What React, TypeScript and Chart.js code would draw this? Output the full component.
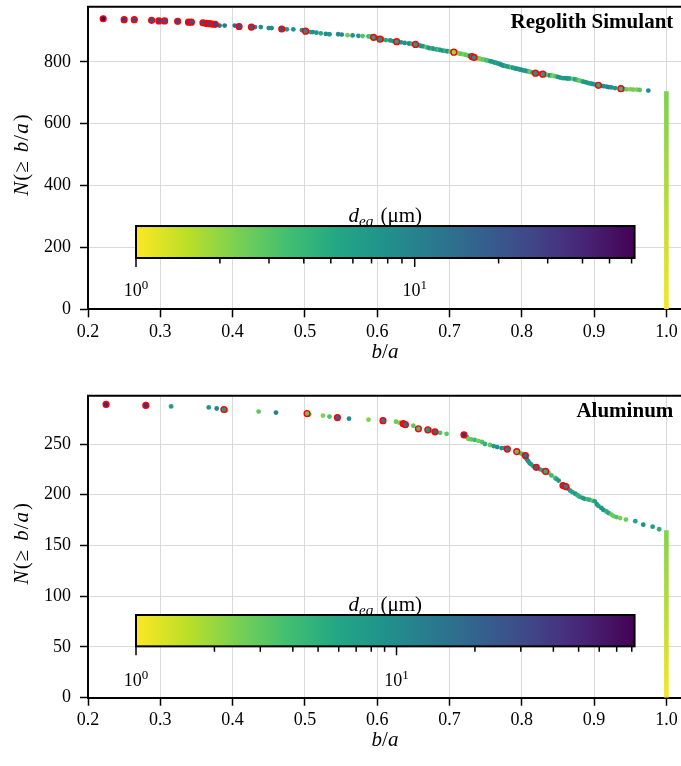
import React, { useEffect, useRef } from "react";
import { Chart, registerables } from "chart.js";

Chart.register(...registerables);

const FONT = '"Liberation Serif", "Times New Roman", serif';

// ---------- axes ----------
const X_TICKS = [0.2, 0.3, 0.4, 0.5, 0.6, 0.7, 0.8, 0.9, 1.0];
const X_MIN = 0.2;
const X_MAX = 1.0216;
const TOP_Y_TICKS = [0, 200, 400, 600, 800];
const TOP_Y_MAX = 978;
const BOT_Y_TICKS = [0, 50, 100, 150, 200, 250];
const BOT_Y_MAX = 297.6;

// ---------- colorbar ----------
const CB_MAJOR = [1, 10];
const CB_MINOR = [2, 3, 4, 5, 6, 7, 8, 9, 20, 30, 40, 50, 60, 70, 80, 90];
const TOP_D_MAX = 61.5;
const BOT_D_MAX = 82;
const CB_BA = [0.2664, 0.956];
const TOP_CB_N = [165.8, 269.1];
const BOT_CB_N = [50.6, 81.5];

// ---------- stack of particles at b/a = 1 ----------
const TOP_VLINE_N = [0, 705];
const BOT_VLINE_N = [0, 165];
const VLINE_D = [1.05, 2.3];

// ---------- Regolith Simulant ----------
const TOP_BA = [
  0.382, 0.389, 0.403, 0.431, 0.439, 0.45, 0.454, 0.475, 0.484, 0.496,
  0.508, 0.511, 0.516, 0.522, 0.529, 0.534, 0.546, 0.551, 0.559, 0.566,
  0.574, 0.58, 0.588, 0.591, 0.6, 0.607, 0.612, 0.618, 0.622, 0.633,
  0.638, 0.644, 0.648, 0.658, 0.661, 0.664, 0.668, 0.671, 0.673, 0.676,
  0.678, 0.682, 0.685, 0.687, 0.691, 0.694, 0.697, 0.701, 0.71, 0.713,
  0.715, 0.718, 0.72, 0.723, 0.725, 0.728, 0.738, 0.74, 0.742, 0.745,
  0.747, 0.749, 0.751, 0.753, 0.756, 0.758, 0.761, 0.763, 0.765, 0.768,
  0.77, 0.772, 0.774, 0.776, 0.778, 0.781, 0.783, 0.786, 0.788, 0.79,
  0.792, 0.795, 0.797, 0.8, 0.802, 0.805, 0.807, 0.81, 0.812, 0.815,
  0.824, 0.834, 0.837, 0.839, 0.842, 0.844, 0.847, 0.85, 0.853, 0.857,
  0.86, 0.863, 0.866, 0.871, 0.874, 0.877, 0.88, 0.883, 0.885, 0.888,
  0.891, 0.894, 0.897, 0.9, 0.91, 0.913, 0.917, 0.92, 0.924, 0.929,
  0.941, 0.945, 0.95, 0.954, 0.959, 0.963, 0.975,
];
const TOP_N = [
  917, 917, 917, 912, 912, 909, 909, 905, 905, 902,
  896, 896, 894, 892, 890, 889, 889, 888, 886, 885,
  884, 883, 882, 881, 876, 872, 870, 869, 867, 863,
  861, 859, 858, 853, 851, 850, 847, 845, 844, 843,
  842, 840, 839, 838, 836, 835, 834, 833, 829, 827,
  826, 825, 824, 822, 821, 819, 812, 811, 810, 808,
  807, 806, 805, 804, 802, 801, 799, 797, 796, 794,
  792, 790, 788, 787, 786, 784, 783, 782, 780, 779,
  778, 777, 775, 774, 772, 771, 770, 768, 767, 765,
  762, 758, 757, 756, 755, 754, 753, 751, 749, 747,
  747, 746, 746, 745, 743, 741, 739, 737, 736, 734,
  732, 730, 729, 727, 722, 721, 720, 718, 717, 715,
  712, 711, 711, 710, 710, 709, 707,
];
const TOP_D = [
  13, 12, 14, 10, 8, 8, 9, 7, 8, 9,
  6, 8, 7, 5, 8, 7, 8, 9, 2.5, 8,
  7, 3, 4, 3, 6, 8, 5, 7, 8, 7,
  8, 9, 5, 6, 8, 7, 3, 6, 8, 4,
  7, 6, 3, 6, 8, 4, 7, 3, 3, 2.2,
  2.5, 3, 2.2, 3, 2.5, 6, 2.5, 3, 2.2, 2.5,
  3, 2.2, 4, 3, 5, 8, 6, 9, 5, 8,
  6, 10, 7, 8, 5, 7, 6, 3, 8, 5,
  7, 8, 6, 9, 7, 6, 8, 4, 2.5, 7,
  6, 3, 2.5, 8, 3, 2.2, 3, 7, 8, 6,
  7, 8, 6, 3, 6, 4, 2.5, 3, 6, 7,
  8, 6, 7, 8, 7, 9, 8, 10, 8, 7,
  5, 2.5, 2.2, 2.5, 2.2, 3, 8,
];
const TOP_RED_BA = [
  0.221, 0.25, 0.264, 0.288, 0.298, 0.306, 0.324, 0.339, 0.343, 0.359,
  0.364, 0.368, 0.372, 0.376, 0.409, 0.426, 0.468, 0.501, 0.595, 0.604,
  0.627, 0.653, 0.706, 0.731, 0.734, 0.819, 0.829, 0.906, 0.937,
];
const TOP_RED_N = [
  939, 936, 936, 934, 932, 932, 931, 928, 928, 926,
  924, 923, 922, 921, 914, 912, 906, 899, 879, 873,
  865, 856, 831, 817, 814, 763, 760, 724, 713,
];
const TOP_RED_D = [
  55, 30, 25, 24, 28, 22, 26, 30, 24, 22,
  26, 24, 20, 28, 22, 20, 22, 9, 6, 8,
  6, 7, 1.8, 7, 8, 8, 6, 5, 4,
];

// ---------- Aluminum ----------
const BOT_BA = [
  0.315, 0.367, 0.378, 0.391, 0.436, 0.46, 0.506, 0.525, 0.534, 0.561,
  0.588, 0.626, 0.631, 0.65, 0.675, 0.687, 0.696, 0.724, 0.726, 0.73,
  0.735, 0.74, 0.745, 0.749, 0.756, 0.761, 0.766, 0.772, 0.776, 0.798,
  0.801, 0.807, 0.809, 0.811, 0.813, 0.816, 0.825, 0.829, 0.837, 0.841,
  0.846, 0.848, 0.851, 0.864, 0.867, 0.87, 0.874, 0.877, 0.88, 0.884,
  0.887, 0.891, 0.894, 0.898, 0.901, 0.904, 0.906, 0.91, 0.913, 0.917,
  0.92, 0.924, 0.927, 0.931, 0.936, 0.944, 0.957, 0.968, 0.981, 0.99,
];
const BOT_N = [
  287, 286, 285, 283, 282, 281, 279, 278, 277, 275,
  274, 272, 271, 268, 263, 261, 260, 257, 255, 254.5,
  254, 253, 252, 250, 249, 248, 247, 246, 246, 241,
  240, 235, 233, 231, 230, 228, 225, 224, 221.5, 219,
  216.5, 215.5, 214, 206, 204, 202.5, 201, 199.5, 198, 197,
  196, 195.5, 195, 194, 193.5, 190.5, 189, 187, 185, 183.5,
  182, 180.5, 179, 178, 177, 175.5, 174, 170.5, 168.5, 166,
];
const BOT_D = [
  7, 8, 11, 2.5, 3, 12, 3, 2.3, 3.5, 10,
  2.3, 2.8, 2.5, 3, 2.8, 3.5, 3, 4, 2.6, 3,
  4, 2.5, 3.5, 5, 3, 7, 9, 10, 8, 2.8,
  4, 8, 9, 7, 8, 6, 5, 7, 3, 4,
  3, 6, 8, 7, 8, 6, 9, 5, 5, 7,
  8, 4, 5, 3, 7, 8, 6, 8, 9, 5,
  6, 3, 2.8, 3.5, 2.5, 2.8, 6, 9, 7, 5,
];
const BOT_RED_BA = [
  0.225, 0.28, 0.388, 0.503, 0.545, 0.608, 0.636, 0.639, 0.657, 0.67,
  0.68, 0.72, 0.78, 0.793, 0.805, 0.82, 0.833, 0.857, 0.861,
];
const BOT_RED_N = [
  289, 288, 284, 280, 276, 273, 270, 269, 265, 264,
  262, 259, 245, 242.5, 238.6, 227, 223, 209, 208,
];
const BOT_RED_D = [
  50, 45, 8, 3, 20, 14, 22, 18, 4, 8,
  20, 45, 13, 3, 18, 20, 5, 20, 12,
];

// ---------- colormap ----------
const VIRIDIS = [
  [68, 1, 84], [72, 36, 117], [65, 68, 135], [53, 95, 141], [42, 120, 142],
  [33, 145, 140], [34, 168, 132], [68, 191, 112], [122, 209, 81], [189, 223, 38], [253, 231, 37],
];
function viridis(t: number): string {
  const tt = Math.max(0, Math.min(1, t));
  const s = tt * 10;
  const i = Math.min(9, Math.floor(s));
  const f = s - i;
  const a = VIRIDIS[i];
  const b = VIRIDIS[i + 1];
  const c = [0, 1, 2].map((k) => Math.round(a[k] + (b[k] - a[k]) * f));
  return `rgb(${c[0]},${c[1]},${c[2]})`;
}
function dColor(d: number, dmax: number): string {
  return viridis(1 - Math.log10(d) / Math.log10(dmax));
}

type Run = { t: string; f: string; dy?: number; gap?: number };
function drawRuns(ctx: CanvasRenderingContext2D, runs: Run[], cx: number, cy: number, baseline: CanvasTextBaseline) {
  let w = 0;
  for (const r of runs) {
    ctx.font = r.f;
    w += ctx.measureText(r.t).width + (r.gap || 0);
  }
  let x = cx - w / 2;
  ctx.textAlign = "left";
  ctx.textBaseline = baseline;
  for (const r of runs) {
    ctx.font = r.f;
    ctx.fillText(r.t, x, cy + (r.dy || 0));
    x += ctx.measureText(r.t).width + (r.gap || 0);
  }
}

type Cfg = {
  key: string;
  title: string;
  titleDy: number;
  regBA: number[];
  regN: number[];
  regD: number[];
  redBA: number[];
  redN: number[];
  redD: number[];
  vline: number[];
  yMax: number;
  yTicks: number[];
  dmax: number;
  cbN: number[];
  cbLabelDy: number;
  padTop: number;
  xAxisH: number;
};

const IT21 = `italic 21px ${FONT}`;
const RM21 = `21px ${FONT}`;

function makeOverlay(cfg: Cfg) {
  return {
    id: "overlay_" + cfg.key,
    afterDraw(chart: any) {
      const ctx: CanvasRenderingContext2D = chart.ctx;
      const ca = chart.chartArea;
      const xs = chart.scales.x;
      const ys = chart.scales.y;
      ctx.save();
      // top / right spines
      ctx.strokeStyle = "#000";
      ctx.lineWidth = 2;
      ctx.beginPath();
      ctx.moveTo(ca.left - 1, ca.top);
      ctx.lineTo(ca.right + 1, ca.top);
      ctx.moveTo(ca.right, ca.top);
      ctx.lineTo(ca.right, ca.bottom);
      ctx.stroke();

      // panel title
      ctx.fillStyle = "#000";
      ctx.font = `bold 21px ${FONT}`;
      ctx.textAlign = "right";
      ctx.textBaseline = "alphabetic";
      ctx.fillText(cfg.title, ca.right - 8.7, ca.top + cfg.titleDy);

      // axis titles
      drawRuns(ctx, [{ t: "b", f: IT21 }, { t: "/", f: RM21 }, { t: "a", f: IT21 }], (ca.left + ca.right) / 2, ca.bottom + 43, "middle");
      ctx.save();
      ctx.translate(22, (ca.top + ca.bottom) / 2 - 3);
      ctx.rotate(-Math.PI / 2);
      drawRuns(
        ctx,
        [
          { t: "N", f: IT21, gap: 1 },
          { t: "(", f: RM21, gap: 1 },
          { t: "\u2265", f: RM21, gap: 9 },
          { t: "b", f: IT21, gap: 1 },
          { t: "/", f: RM21, gap: 1 },
          { t: "a", f: IT21, gap: 2 },
          { t: ")", f: RM21 },
        ],
        0,
        0,
        "middle"
      );
      ctx.restore();

      // colorbar
      const x0 = xs.getPixelForValue(CB_BA[0]);
      const x1 = xs.getPixelForValue(CB_BA[1]);
      const yT = ys.getPixelForValue(cfg.cbN[1]);
      const yB = ys.getPixelForValue(cfg.cbN[0]);
      ctx.fillStyle = "#000";
      drawRuns(
        ctx,
        [
          { t: "d", f: IT21 },
          { t: "eq", f: `italic 15px ${FONT}`, dy: 4, gap: 2 },
          { t: " (\u03bcm)", f: RM21 },
        ],
        (x0 + x1) / 2,
        yT - 4,
        "alphabetic"
      );
      const L = Math.log10(cfg.dmax);
      const g = ctx.createLinearGradient(x0, 0, x1, 0);
      for (let i = 0; i <= 40; i++) {
        const f = i / 40;
        g.addColorStop(f, viridis(1 - f));
      }
      ctx.fillStyle = g;
      ctx.fillRect(x0, yT, x1 - x0, yB - yT);
      ctx.strokeStyle = "#000";
      ctx.lineWidth = 2;
      ctx.strokeRect(x0, yT, x1 - x0, yB - yT);
      const px = (d: number) => x0 + (Math.log10(d) / L) * (x1 - x0);
      ctx.lineWidth = 1.5;
      ctx.beginPath();
      for (const d of CB_MAJOR) {
        ctx.moveTo(px(d), yB);
        ctx.lineTo(px(d), yB + 9);
      }
      for (const d of CB_MINOR.filter((v) => v <= cfg.dmax)) {
        ctx.moveTo(px(d), yB);
        ctx.lineTo(px(d), yB + 5.5);
      }
      ctx.stroke();
      ctx.fillStyle = "#000";
      for (const d of CB_MAJOR) {
        const e = String(Math.round(Math.log10(d)));
        drawRuns(
          ctx,
          [
            { t: "10", f: `18px ${FONT}` },
            { t: e, f: `13px ${FONT}`, dy: -7 },
          ],
          px(d),
          yB + cfg.cbLabelDy,
          "alphabetic"
        );
      }
      ctx.restore();
    },
  };
}

function buildConfig(cfg: Cfg): any {
  const reg = cfg.regBA.map((x, i) => ({ x, y: cfg.regN[i], d: cfg.regD[i] }));
  const red = cfg.redBA.map((x, i) => ({ x, y: cfg.redN[i], d: cfg.redD[i] }));
  const colorOf = (c: any) => {
    const r = c.raw;
    return r && r.d ? dColor(r.d, cfg.dmax) : "#21918c";
  };
  const vGrad = (c: any) => {
    const ch = c.chart;
    const ys = ch.scales && ch.scales.y;
    if (!ys || !ch.chartArea) return dColor(1.5, cfg.dmax);
    const y0 = ys.getPixelForValue(cfg.vline[0]);
    const y1 = ys.getPixelForValue(cfg.vline[1]);
    const g = ch.ctx.createLinearGradient(0, y0, 0, y1);
    g.addColorStop(0, dColor(VLINE_D[0], cfg.dmax));
    g.addColorStop(1, dColor(VLINE_D[1], cfg.dmax));
    return g;
  };
  const grid = { color: "#d9d9d9", lineWidth: 1, tickColor: "#000", tickWidth: 1.5, tickLength: 8 };
  const border = { color: "#000", width: 2 };
  return {
    type: "scatter",
    data: {
      datasets: [
        {
          data: red,
          order: 0,
          pointRadius: 2.9,
          pointBorderWidth: 1.4,
          pointBorderColor: "#ff0000",
          pointBackgroundColor: colorOf,
          showLine: false,
        },
        {
          data: reg,
          order: 1,
          pointRadius: 2.4,
          pointBorderWidth: 0,
          pointBorderColor: "rgba(0,0,0,0)",
          pointBackgroundColor: colorOf,
          showLine: false,
        },
        {
          data: [
            { x: 1, y: cfg.vline[0] },
            { x: 1, y: cfg.vline[1] },
          ],
          order: 2,
          showLine: true,
          pointRadius: 0,
          borderWidth: 4.6,
          borderColor: vGrad,
          borderCapStyle: "butt",
        },
      ],
    },
    options: {
      animation: false,
      responsive: false,
      devicePixelRatio: 1,
      events: [],
      layout: { padding: { left: 0, right: 8, top: cfg.padTop, bottom: 0 } },
      plugins: { legend: { display: false }, tooltip: { enabled: false } },
      scales: {
        x: {
          type: "linear",
          min: X_MIN,
          max: X_MAX,
          afterBuildTicks: (s: any) => {
            s.ticks = X_TICKS.map((v) => ({ value: v }));
          },
          afterFit: (s: any) => {
            s.height = cfg.xAxisH;
            s.paddingLeft = 0;
            s.paddingRight = 0;
          },
          grid,
          border,
          ticks: {
            color: "#000",
            font: { family: FONT, size: 18 },
            padding: 4,
            maxRotation: 0,
            autoSkip: false,
            callback: (v: any) => Number(v).toFixed(1),
          },
        },
        y: {
          type: "linear",
          min: 0,
          max: cfg.yMax,
          afterBuildTicks: (s: any) => {
            s.ticks = cfg.yTicks.map((v) => ({ value: v }));
          },
          afterFit: (s: any) => {
            s.width = 88;
            s.paddingTop = 0;
            s.paddingBottom = 0;
          },
          grid,
          border,
          ticks: {
            color: "#000",
            font: { family: FONT, size: 18 },
            padding: 9,
            autoSkip: false,
            callback: (v: any) => String(v),
          },
        },
      },
    },
    plugins: [makeOverlay(cfg)],
  };
}

const TOP_CFG: Cfg = {
  key: "top",
  title: "Regolith Simulant",
  titleDy: 20.8,
  regBA: TOP_BA,
  regN: TOP_N,
  regD: TOP_D,
  redBA: TOP_RED_BA,
  redN: TOP_RED_N,
  redD: TOP_RED_D,
  vline: TOP_VLINE_N,
  yMax: TOP_Y_MAX,
  yTicks: TOP_Y_TICKS,
  dmax: TOP_D_MAX,
  cbN: TOP_CB_N,
  cbLabelDy: 38.4,
  padTop: 6.7,
  xAxisH: 73.7,
};

const BOT_CFG: Cfg = {
  key: "bot",
  title: "Aluminum",
  titleDy: 21.3,
  regBA: BOT_BA,
  regN: BOT_N,
  regD: BOT_D,
  redBA: BOT_RED_BA,
  redN: BOT_RED_N,
  redD: BOT_RED_D,
  vline: BOT_VLINE_N,
  yMax: BOT_Y_MAX,
  yTicks: BOT_Y_TICKS,
  dmax: BOT_D_MAX,
  cbN: BOT_CB_N,
  cbLabelDy: 39.5,
  padTop: 12.7,
  xAxisH: 68.3,
};

function ChartPanel({ cfg }: { cfg: Cfg }) {
  const ref = useRef<HTMLCanvasElement | null>(null);
  useEffect(() => {
    if (!ref.current) return;
    const chart = new Chart(ref.current, buildConfig(cfg));
    return () => chart.destroy();
  }, [cfg]);
  return <canvas ref={ref} width={690} height={383} style={{ display: "block", width: 690, height: 383 }} />;
}

export default function App() {
  return (
    <div
      style={{
        position: "absolute",
        left: 0,
        top: 0,
        width: 681,
        height: 766,
        overflow: "hidden",
        background: "#fff",
      }}
    >
      <ChartPanel cfg={TOP_CFG} />
      <ChartPanel cfg={BOT_CFG} />
    </div>
  );
}
